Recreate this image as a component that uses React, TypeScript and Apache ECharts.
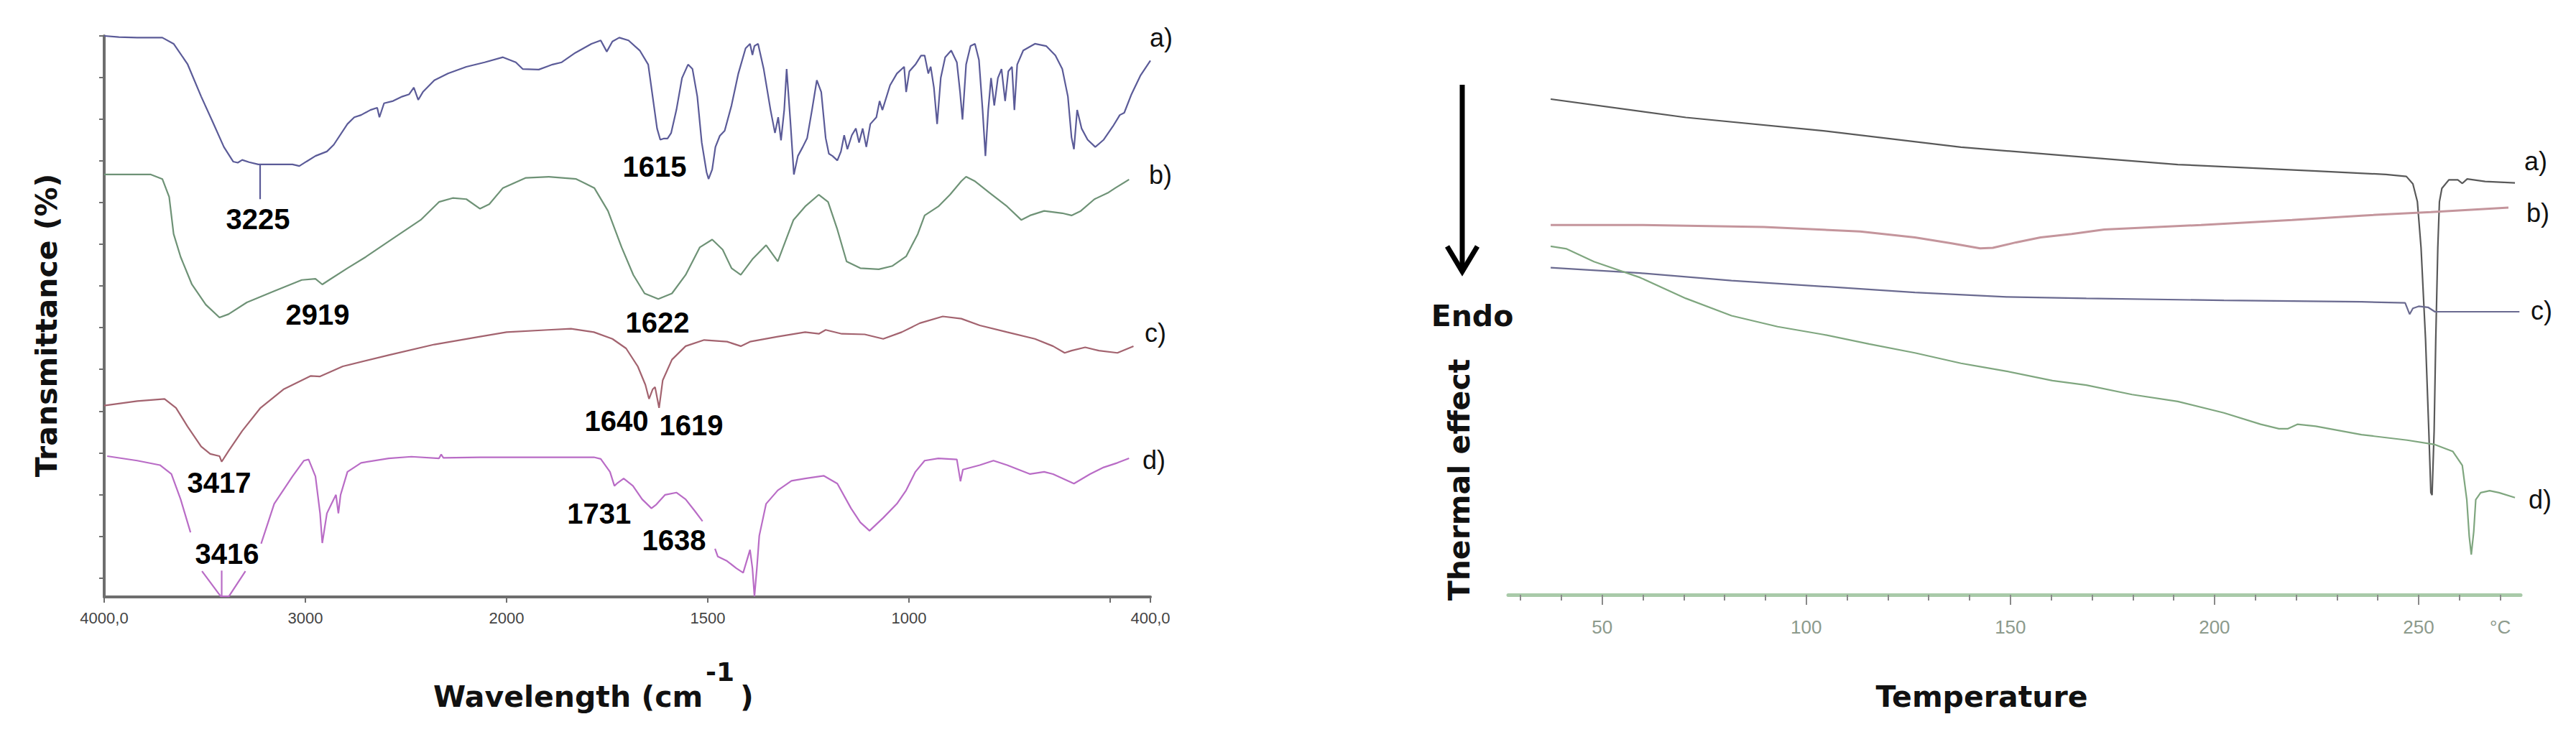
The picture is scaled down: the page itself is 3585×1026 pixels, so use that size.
import React, { useEffect, useRef } from "react";
import * as echarts from "echarts";

// ---------- FTIR data: [wavenumber (cm-1), transmittance (arb. %)] ; null = gap ----------
const ftirA: ([number, number] | null)[] = [
  [4000, 100], [3927, 99.8], [3836, 99.7], [3711, 99.7], [3655, 98.6], [3586, 95], [3518, 89.2], [3461, 84.7],
  [3405, 80.2], [3359, 77.6], [3336, 77.4], [3314, 77.9], [3280, 77.5], [3234, 77.1], [3155, 77.1], [3064, 77.1],
  [3030, 76.8], [2995, 77.6], [2950, 78.6], [2893, 79.4], [2859, 80.6], [2791, 84.3], [2757, 85.5], [2723, 85.9],
  [2677, 86.8], [2643, 87.2], [2632, 85.5], [2609, 88.0], [2564, 88.4], [2518, 89.2], [2484, 89.6], [2461, 90.8],
  [2439, 88.6], [2416, 90.0], [2359, 92.1], [2291, 93.3], [2200, 94.5], [2109, 95.3], [2018, 96.2], [1977, 95.3],
  [1960, 94.1], [1920, 94.0], [1886, 94.9], [1863, 95.3], [1829, 97.0], [1789, 98.6], [1766, 99.2], [1751, 97.2],
  [1737, 99.0], [1720, 99.7], [1697, 99.2], [1669, 97.4], [1648, 94.9], [1637, 89.2], [1626, 83.5], [1618, 81.5],
  [1610, 81.7], [1600, 81.7], [1591, 82.7], [1578, 86.8], [1564, 92.5], [1549, 94.9], [1538, 94.1], [1526, 89.2],
  [1515, 81.0], [1503, 75.7], [1498, 74.5], [1489, 76.2], [1481, 80.2], [1470, 82.2], [1458, 83.1], [1441, 87.6],
  [1424, 93.3], [1406, 97.8], [1395, 98.6], [1389, 96.6], [1384, 98.2], [1375, 98.6], [1361, 94.1], [1344, 86.8],
  [1333, 82.7], [1325, 85.5], [1318, 81.4], [1310, 86.8], [1304, 94.1], [1295, 85.1], [1286, 75.3], [1276, 78.6],
  [1264, 80.2], [1253, 81.8], [1241, 86.8], [1229, 92.1], [1218, 90.0], [1207, 81.8], [1199, 79.0], [1190, 78.6],
  [1178, 77.8], [1169, 79.4], [1161, 82.3], [1153, 79.8], [1142, 82.3], [1132, 83.5], [1124, 81.0], [1115, 83.5],
  [1106, 80.2], [1096, 84.3], [1081, 85.5], [1073, 88.4], [1066, 86.8], [1047, 91.2], [1030, 93.3], [1012, 94.5],
  [1007, 90.0], [999, 93.7], [984, 94.9], [970, 96.5], [961, 96.5], [952, 93.3], [946, 94.5], [938, 90.8],
  [930, 84.3], [921, 92.5], [910, 96.2], [895, 97.4], [881, 95.3], [873, 90.0], [867, 85.1], [858, 94.9],
  [847, 98.2], [836, 98.6], [826, 95.7], [817, 86.8], [810, 78.6], [803, 86.8], [796, 92.5], [788, 87.6],
  [779, 92.5], [770, 94.1], [761, 88.4], [753, 93.7], [744, 94.5], [738, 86.8], [731, 94.9], [716, 97.4],
  [687, 98.6], [659, 98.2], [636, 96.5], [619, 94.1], [605, 89.2], [596, 81.9], [590, 79.8], [582, 86.8],
  [571, 83.5], [556, 81.5], [537, 80.2], [516, 81.5], [493, 83.9], [476, 85.9], [465, 86.3], [447, 89.6],
  [425, 92.9], [400, 95.6],
];

const ftirB: ([number, number] | null)[] = [
  [4000, 75.3], [3768, 75.3], [3711, 74.5], [3677, 71.3], [3655, 64.7], [3620, 60.6], [3564, 55.7], [3495, 52.1],
  [3427, 49.8], [3382, 50.4], [3291, 52.5], [3155, 54.5], [3018, 56.5], [2950, 56.7], [2916, 55.7], [2882, 56.5],
  [2791, 58.6], [2700, 60.6], [2564, 63.9], [2427, 67.2], [2336, 70.4], [2268, 71.1], [2200, 70.9], [2132, 69.2],
  [2086, 70.0], [2018, 72.9], [1952, 74.7], [1895, 74.9], [1827, 74.5], [1782, 72.9], [1748, 68.8], [1714, 62.3],
  [1685, 57.4], [1657, 54.1], [1623, 53.1], [1589, 54.1], [1555, 57.4], [1520, 62.3], [1489, 63.7], [1463, 61.9],
  [1441, 58.6], [1418, 57.4], [1389, 60.2], [1355, 62.7], [1326, 59.8], [1287, 67.2], [1258, 69.6], [1224, 71.7],
  [1201, 70.4], [1178, 65.5], [1155, 59.8], [1121, 58.6], [1075, 58.4], [1041, 59.0], [1007, 60.7], [978, 64.7],
  [961, 68.0], [927, 69.6], [898, 71.7], [870, 74.1], [858, 74.9], [836, 74.1], [801, 72.1], [756, 69.6],
  [721, 67.2], [699, 68.0], [664, 68.8], [619, 68.4], [596, 68.0], [573, 68.8], [539, 70.9], [504, 72.1],
  [487, 72.9], [453, 74.4],
];

const ftirC: ([number, number] | null)[] = [
  [4000, 34.1], [3836, 34.9], [3700, 35.3], [3643, 33.7], [3586, 30.4], [3518, 26.8], [3473, 25.5], [3427, 25.1],
  [3416, 24.1], [3382, 26.0], [3314, 29.6], [3223, 33.7], [3109, 37.0], [2973, 39.4], [2927, 39.3], [2814, 41.1],
  [2586, 43.1], [2359, 45.0], [2132, 46.4], [2000, 47.2], [1897, 47.6], [1840, 47.8], [1783, 47.2], [1737, 46.0],
  [1703, 44.3], [1674, 41.1], [1655, 37.8], [1646, 35.3], [1637, 37.0], [1631, 37.4], [1621, 33.7], [1612, 38.6],
  [1589, 42.3], [1555, 44.7], [1509, 45.8], [1452, 45.5], [1418, 44.7], [1395, 45.5], [1326, 46.4], [1258, 47.2],
  [1224, 46.9], [1207, 47.6], [1167, 46.9], [1110, 46.8], [1064, 46.0], [1018, 47.2], [973, 48.8], [916, 50.0],
  [870, 49.6], [824, 48.4], [756, 47.2], [687, 46.0], [642, 44.7], [613, 43.5], [596, 43.9], [562, 44.5],
  [528, 43.9], [482, 43.5], [442, 44.7],
];

const ftirD: ([number, number] | null)[] = [
  [3985, 25.1], [3836, 24.3], [3723, 23.5], [3666, 21.9], [3620, 17.4], [3571, 11.5], null,
  [3514, 4.6], [3421, 0.1], [3380, 0.1], [3298, 4.6], null,
  [3220, 9.5], [3155, 16.6], [3064, 21.5], [3007, 24.3], [2984, 24.5], [2950, 21.5], [2927, 14.9], [2916, 9.6],
  [2893, 14.9], [2870, 16.6], [2848, 18.2], [2836, 14.9], [2825, 18.2], [2791, 22.3], [2723, 23.9], [2586, 24.7],
  [2473, 25.0], [2336, 24.7], [2325, 25.4], [2314, 24.8], [2132, 24.9], [2000, 24.9], [1783, 24.9], [1766, 24.6],
  [1743, 22.3], [1732, 19.8], [1726, 20.2], [1709, 21.1], [1686, 19.8], [1663, 17.4], [1640, 15.8], [1629, 16.4],
  [1606, 18.2], [1578, 18.6], [1555, 17.4], [1532, 15.3], [1513, 13.5], null,
  [1482, 8.6], [1475, 7.2], [1452, 6.4], [1429, 5.1], [1412, 4.3], [1395, 8.4], [1389, 5.1], [1384, 0.1],
  [1378, 5.1], [1372, 10.9], [1355, 16.6], [1326, 19.0], [1292, 20.7], [1258, 21.1], [1212, 21.6], [1178, 20.2],
  [1144, 15.8], [1121, 13.3], [1098, 11.8], [1064, 14.1], [1030, 16.6], [1007, 19.0], [984, 22.3], [961, 24.3],
  [927, 24.7], [881, 24.5], [872, 20.6], [866, 22.7], [824, 23.5], [790, 24.3], [756, 23.5], [699, 21.9],
  [664, 22.3], [642, 21.9], [590, 20.2], [550, 21.9], [516, 23.1], [482, 23.9], [453, 24.7],
];

// Peak marker segments (wavenumber, from, to)
const markerA: [number, number][] = [[3225, 77.1], [3225, 70.9]];
const markerD: [number, number][] = [[3416, 4.7], [3416, 0]];

// Peak annotations: label, wavenumber position, transmittance position
const peakLabels = ["3225", "2919", "1615", "1622", "1640", "1619", "3417", "3416", "1731", "1638"];
const peakLabelW = [3236, 2939, 1632, 1625, 1727, 1541, 3429, 3389, 1770, 1584];
const peakLabelT = [67.3, 50.3, 76.7, 48.9, 31.4, 30.6, 20.4, 7.7, 14.9, 10.1];

const ftirTickW = [4000, 3000, 2000, 1500, 1000, 500, 400];
const ftirLabelW = [4000, 3000, 2000, 1500, 1000, 400];
const ftirLabelText: Record<number, string> = { 4000: "4000,0", 3000: "3000", 2000: "2000", 1500: "1500", 1000: "1000", 400: "400,0" };
const ftirYTicks = [100, 92.57, 85.14, 77.71, 70.28, 62.85, 55.42, 47.99, 40.56, 33.13, 25.7, 18.27, 10.84, 3.41];

// ---------- DSC data: [temperature (°C), heat flow (arb.)] ----------
const dscA: [number, number][] = [
  [37.4, 100], [70.5, 96.3], [104.2, 93.6], [137.9, 90.3], [165, 88.5], [191, 86.8], [225, 85.5], [242, 84.8],
  [247, 84.4], [248.6, 82.9], [249.7, 79.3], [250.6, 70], [251.7, 51.5], [252.5, 33], [253, 20.6], [253.3, 20.1],
  [253.8, 33], [254.2, 51.5], [254.7, 70], [255.1, 79.3], [255.7, 82], [257.4, 83.7], [259.6, 83.7], [260.7, 83],
  [261.9, 83.9], [266.3, 83.4], [273.6, 83.1],
];
const dscB: [number, number][] = [
  [37.4, 74.6], [60, 74.6], [89.6, 74.2], [113.2, 73.3], [126.6, 72.1], [135.6, 70.9], [142.6, 69.9], [145.7, 70],
  [151.4, 71.1], [157.4, 72.1], [165, 72.8], [173, 73.7], [196.7, 74.6], [219, 75.6], [236, 76.5], [253, 77.2],
  [272, 78.1],
];
const dscC: [number, number][] = [
  [37.4, 66], [59.3, 64.9], [81.7, 63.4], [104.2, 62.2], [126.6, 61], [149.1, 60.1], [168.6, 59.8], [202.3, 59.4],
  [236, 59.1], [246.7, 58.9], [247.8, 56.6], [248.6, 57.8], [250, 58.2], [252.3, 58], [254, 57.1], [258.4, 57.1],
  [274.7, 57.1],
];
const dscD: [number, number][] = [
  [37.4, 70.3], [41.3, 69.8], [48, 67.2], [59.3, 64], [70.5, 59.8], [81.7, 56.3], [93, 54.1], [104.2, 52.5],
  [115.4, 50.6], [126.6, 48.8], [137.9, 46.7], [149.1, 45.1], [160.3, 43.2], [168.6, 42.3], [179.8, 40.4], [191, 39],
  [202.3, 36.7], [211.3, 34.4], [215.8, 33.5], [218, 33.5], [220.3, 34.4], [224.8, 34], [236, 32.3], [247.2, 31.2],
  [254, 30.3], [258.4, 28.9], [260.7, 26.1], [261.8, 19.2], [262.4, 11.8], [262.9, 8.1], [263.5, 12.7], [264, 19.2],
  [265.2, 20.6], [267.4, 21], [269.7, 20.6], [273.6, 19.6],
];
const dscMajorTicks = [50, 100, 150, 200, 250];
const dscMinorTicks = [30, 40, 60, 70, 80, 90, 110, 120, 130, 140, 160, 170, 180, 190, 210, 220, 230, 240, 260, 270];
const dscLabelValues = [50, 100, 150, 200, 250, 270];

const ftirColors = ["#5b5b98", "#6e9276", "#a3636f", "#b96cc6"];
const dscColors = ["#595959", "#c4959c", "#6a6a90", "#7fa67f"];

// FTIR x axis: scale doubles below 2000 cm-1 (instrument convention)
const toU = (w: number) => (w >= 2000 ? (4000 - w) / 1000 : 2 + (2000 - w) / 500);
const fromU = (u: number) => (u <= 2 ? 4000 - 1000 * u : 2000 - 500 * (u - 2));
const conv = (arr: ([number, number] | null)[]) => arr.map((p) => (p === null ? ["-", "-"] : [toU(p[0]), p[1]]));

const App: React.FC = () => {
  const ref = useRef<HTMLDivElement>(null);
  useEffect(() => {
    if (!ref.current) return;
    const chart = echarts.init(ref.current, undefined, { renderer: "svg" });
    const titleStyle = { fontFamily: "DejaVu Sans", fontWeight: "bold", fontSize: 41, fill: "#111" };
    const seriesLabelStyle = { fontFamily: "Liberation Sans", fontSize: 36, fill: "#111", verticalAlign: "middle", align: "left" };
    const ftirLine = (data: any[], color: string, name: string) => ({
      type: "line", name, xAxisIndex: 0, yAxisIndex: 0, data, showSymbol: false, symbol: "none",
      lineStyle: { color, width: 2.2 }, connectNulls: false, silent: true,
    });
    const dscLine = (data: any[], color: string, name: string, width = 2.2) => ({
      type: "line", name, xAxisIndex: 1, yAxisIndex: 1, data, showSymbol: false, symbol: "none",
      lineStyle: { color, width }, silent: true,
    });
    const option: any = {
      animation: false,
      backgroundColor: "#ffffff",
      textStyle: { fontFamily: "Liberation Sans" },
      grid: [
        { left: 145, top: 50, width: 1456, height: 781 },
        { left: 2099, top: 138, width: 1409, height: 690 },
      ],
      xAxis: [
        {
          type: "value", gridIndex: 0, min: 0, max: 5.2, position: "bottom",
          axisLine: { show: true, lineStyle: { color: "#6e6e6e", width: 4 } },
          axisTick: { show: true, customValues: ftirTickW.map(toU), length: 8, lineStyle: { color: "#6e6e6e", width: 2 } },
          axisLabel: {
            show: true, customValues: ftirLabelW.map(toU), fontSize: 22, color: "#444", margin: 18,
            fontFamily: "Liberation Sans",
            formatter: (v: number) => ftirLabelText[Math.round(fromU(v))] ?? "",
          },
          splitLine: { show: false },
        },
        {
          type: "value", gridIndex: 1, min: 27, max: 275, position: "bottom",
          axisLine: { show: true, lineStyle: { color: "#a9caa9", width: 5 } },
          axisTick: { show: true, customValues: dscMajorTicks, length: 14, lineStyle: { color: "#8a8a8a", width: 2 } },
          axisLabel: {
            show: true, customValues: dscLabelValues, fontSize: 26, color: "#8c9a8c", margin: 32,
            fontFamily: "Liberation Sans",
            formatter: (v: number) => (v === 270 ? "°C" : String(v)),
          },
          splitLine: { show: false },
        },
        {
          type: "value", gridIndex: 1, min: 27, max: 275, position: "bottom",
          axisLine: { show: false },
          axisTick: { show: true, customValues: dscMinorTicks, length: 8, lineStyle: { color: "#8a8a8a", width: 2 } },
          axisLabel: { show: false },
          splitLine: { show: false },
        },
      ],
      yAxis: [
        {
          type: "value", gridIndex: 0, min: 0, max: 100, position: "left",
          axisLine: { show: true, lineStyle: { color: "#6e6e6e", width: 4 } },
          axisTick: { show: true, customValues: ftirYTicks, length: 7, lineStyle: { color: "#6e6e6e", width: 2 } },
          axisLabel: { show: false },
          splitLine: { show: false },
        },
        { type: "value", gridIndex: 1, min: 0, max: 100, show: false, splitLine: { show: false } },
      ],
      series: [
        ftirLine(conv(ftirA), ftirColors[0], "a"),
        ftirLine(conv(ftirB), ftirColors[1], "b"),
        ftirLine(conv(ftirC), ftirColors[2], "c"),
        ftirLine(conv(ftirD), ftirColors[3], "d"),
        ftirLine(conv(markerA), ftirColors[0], "a-mark"),
        ftirLine(conv(markerD), ftirColors[3], "d-mark"),
        {
          type: "scatter", xAxisIndex: 0, yAxisIndex: 0, symbolSize: 1, clip: false, silent: true,
          itemStyle: { color: "rgba(255,255,255,0)", opacity: 1 },
          data: peakLabels.map((t, i) => ({ name: t, value: [toU(peakLabelW[i]), peakLabelT[i]] })),
          label: {
            show: true, position: "inside", formatter: "{b}", fontSize: 40, fontWeight: "bold",
            fontFamily: "Liberation Sans", color: "#000", opacity: 1, textBorderWidth: 0,
          },
        },
        dscLine(dscA, dscColors[0], "a"),
        dscLine(dscB, dscColors[1], "b", 3),
        dscLine(dscC, dscColors[2], "c"),
        dscLine(dscD, dscColors[3], "d"),
      ],
      graphic: [
        { type: "text", x: 65, y: 453, rotation: Math.PI / 2, style: { text: "Transmittance (%)", ...titleStyle, align: "center", verticalAlign: "middle" } },
        { type: "text", x: 603, y: 970, style: { text: "Wavelength (cm", ...titleStyle, align: "left", verticalAlign: "middle" } },
        { type: "text", x: 982, y: 935, style: { text: "-1", ...titleStyle, fontSize: 36, align: "left", verticalAlign: "middle" } },
        { type: "text", x: 1030, y: 970, style: { text: ")", ...titleStyle, align: "left", verticalAlign: "middle" } },
        { type: "text", x: 1600, y: 52, style: { text: "a)", ...seriesLabelStyle } },
        { type: "text", x: 1599, y: 243, style: { text: "b)", ...seriesLabelStyle } },
        { type: "text", x: 1593, y: 463, style: { text: "c)", ...seriesLabelStyle } },
        { type: "text", x: 1590, y: 640, style: { text: "d)", ...seriesLabelStyle } },
        { type: "text", x: 3513, y: 224, style: { text: "a)", ...seriesLabelStyle } },
        { type: "text", x: 3516, y: 296, style: { text: "b)", ...seriesLabelStyle } },
        { type: "text", x: 3522, y: 432, style: { text: "c)", ...seriesLabelStyle } },
        { type: "text", x: 3519, y: 695, style: { text: "d)", ...seriesLabelStyle } },
        { type: "text", x: 2049, y: 440, style: { text: "Endo", ...titleStyle, align: "center", verticalAlign: "middle" } },
        { type: "text", x: 2031, y: 668, rotation: Math.PI / 2, style: { text: "Thermal effect", ...titleStyle, align: "center", verticalAlign: "middle" } },
        { type: "text", x: 2758, y: 970, style: { text: "Temperature", ...titleStyle, align: "center", verticalAlign: "middle" } },
        { type: "line", shape: { x1: 2035, y1: 118, x2: 2035, y2: 374 }, style: { stroke: "#000", lineWidth: 7 } },
        { type: "polyline", shape: { points: [[2014, 343], [2035, 378], [2056, 343]] }, style: { stroke: "#000", lineWidth: 7, fill: null } },
      ],
    };
    chart.setOption(option);
    return () => chart.dispose();
  }, []);
  return <div ref={ref} style={{ position: "absolute", left: 0, top: 0, width: 3585, height: 1026 }} />;
};

export default App;
